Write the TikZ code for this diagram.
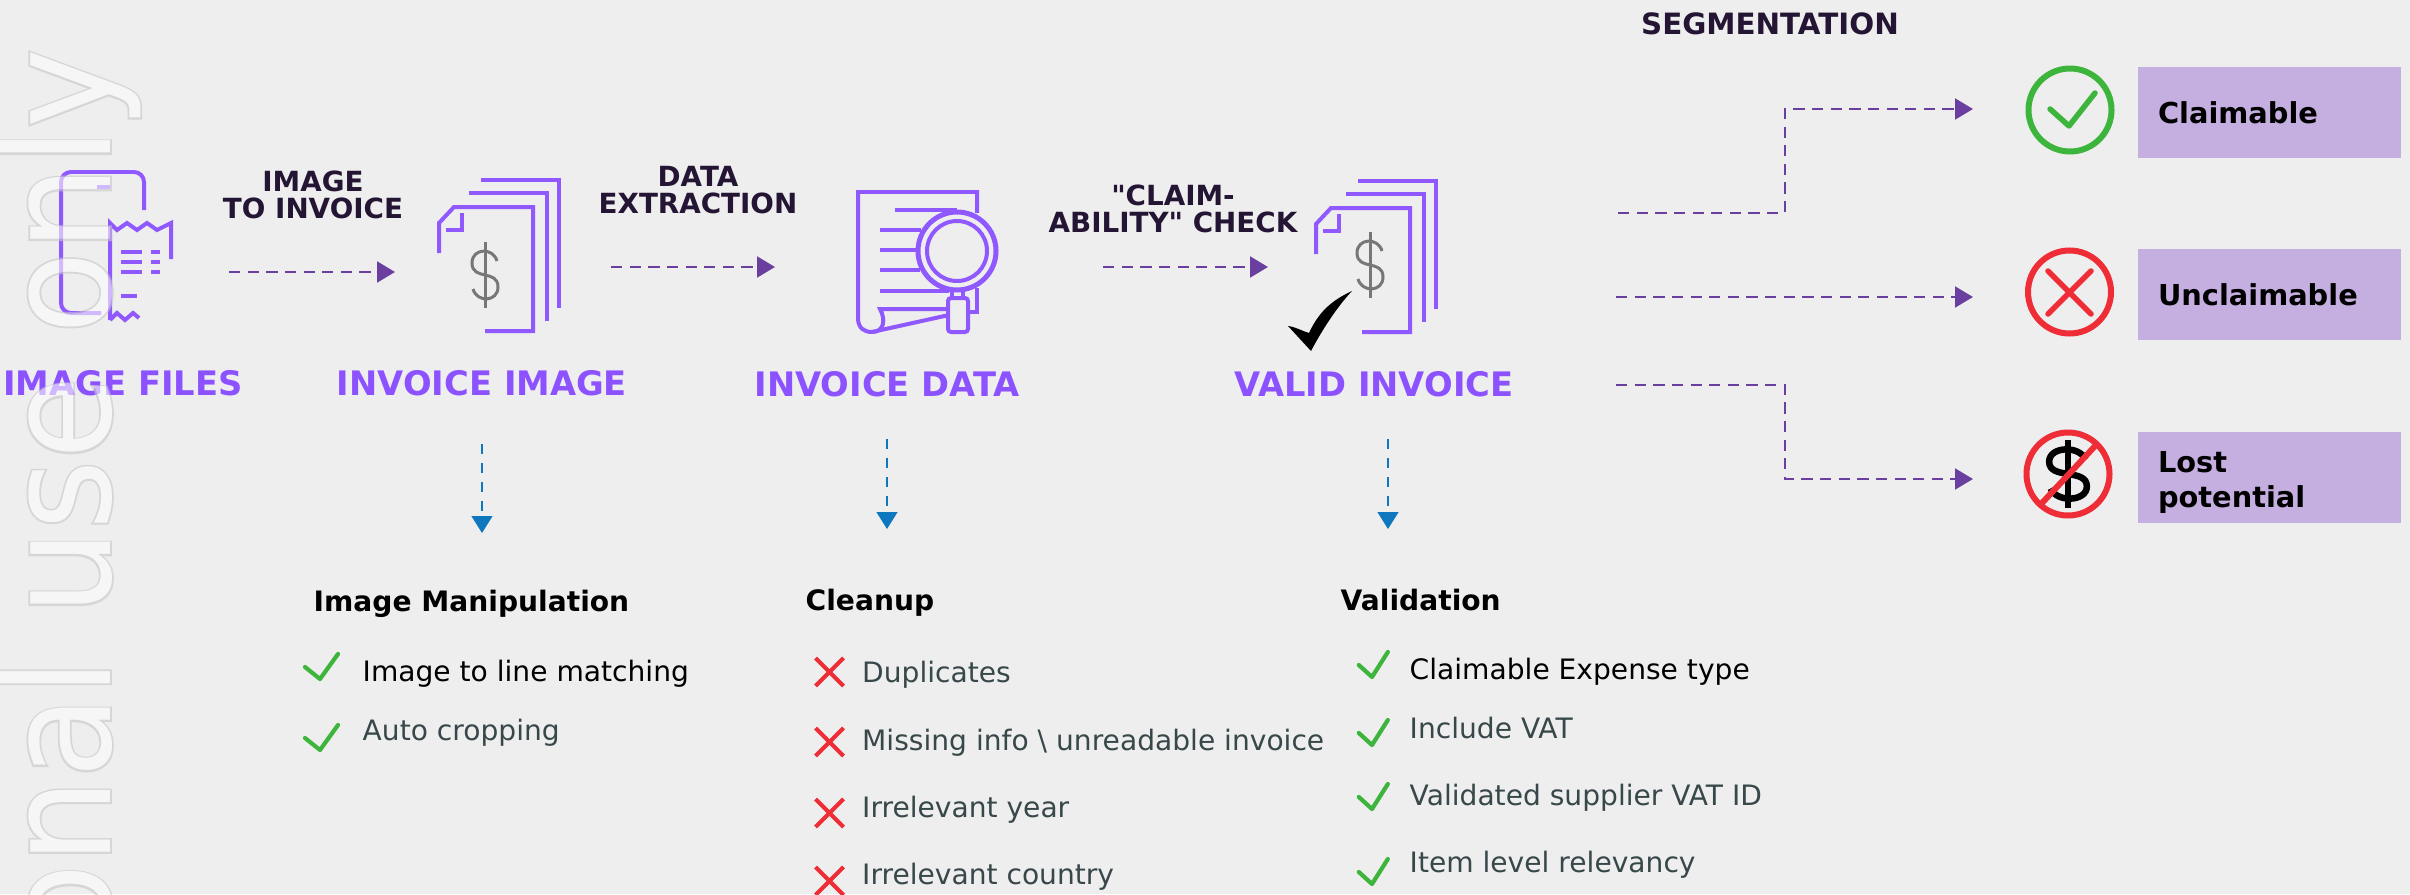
\documentclass[tikz,border=0pt]{standalone}
\usepackage{fontspec}
\setmainfont{DejaVu Sans}
\newfontfamily\labelfont{DejaVu Sans}
\newfontfamily\markedge[FakeBold=2.4,FakeStretch=0.925]{DejaVu Sans}
\newfontfamily\markbody[FakeStretch=0.925]{DejaVu Sans}
\usetikzlibrary{arrows.meta}
\definecolor{pagegrey}{HTML}{EEEEEE}
\definecolor{iconpurple}{HTML}{9059FF}
\definecolor{stagepurple}{HTML}{8C52FF}
\definecolor{flowpurple}{HTML}{6B3FA0}
\definecolor{inkdark}{HTML}{231533}
\definecolor{downblue}{HTML}{0F77BD}
\definecolor{boxlilac}{HTML}{C5AEE0}
\definecolor{okgreen}{HTML}{3DB53D}
\definecolor{badred}{HTML}{EE2D36}
\definecolor{listgrey}{HTML}{37474A}
\definecolor{dollargrey}{HTML}{777777}
\tikzset{
	stagelabel/.style={font=\fontsize{9.6}{11}\selectfont\bfseries, text=stagepurple, anchor=mid, inner sep=0pt},
	steplabel/.style={font=\labelfont\fontsize{7.9}{7.5}\selectfont\bfseries, text=inkdark, align=center, inner sep=0pt},
	listhead/.style={font=\fontsize{8}{10}\selectfont\bfseries, text=black, anchor=mid west, inner sep=0pt},
	listitem/.style={font=\fontsize{8}{10}\selectfont, text=listgrey, anchor=mid west, inner sep=0pt},
	segbox/.style={fill=boxlilac, minimum width=2.63cm, minimum height=0.91cm, inner xsep=0.2cm, inner ysep=0pt, text width=2.23cm, align=left, font=\fontsize{8.2}{10}\selectfont\bfseries, text=black},
	segring/.style={circle, draw=#1, line width=0.06cm, minimum size=0.83cm, inner sep=0pt},
	icon/.style={draw=iconpurple, line width=0.04cm},
	flow/.style={draw=flowpurple, line width=0.02cm, dash pattern=on 3.2pt off 2.1pt, -{Triangle[length=0.18cm,width=0.21cm,fill=flowpurple]}},
	down/.style={draw=downblue, line width=0.014cm, dash pattern=on 2.9pt off 2.5pt, -{Triangle[length=0.17cm,width=0.21cm,fill=downblue]}},
	dollarsign/.pic={
		\draw (0.12,0.14) .. controls (0.08,0.28) and (-0.13,0.27) .. (-0.13,0.12) .. controls (-0.13,-0.06) and (0.13,0.06) .. (0.13,-0.12) .. controls (0.13,-0.27) and (-0.08,-0.28) .. (-0.12,-0.14);
		\draw (0,0.33) -- (0,-0.33);
	},
	docstack/.pic={
		\draw[icon] (0,0.75) -- (0.78,0.75) -- (0.78,-0.53);
		\draw[icon] (-0.12,0.62) -- (0.66,0.62) -- (0.66,-0.66);
		\draw[icon] (-0.42,0.02) -- (-0.42,0.32) -- (-0.27,0.48) -- (0.52,0.48) -- (0.52,-0.76) -- (0.04,-0.76);
		\draw[icon] (-0.19,0.42) -- (-0.19,0.25) -- (-0.35,0.25);
	},
	tickmark/.pic={
		\draw[okgreen, line width=0.042cm, line cap=round, line join=round] (-0.15,0.12) -- (0,0) -- (0.18,0.25);
	},
	crossmark/.pic={
		\draw[badred, line width=0.042cm] (-0.14,-0.14) -- (0.14,0.14);
		\draw[badred, line width=0.042cm] (-0.14,0.14) -- (0.14,-0.14);
	}
}
\begin{document}
\begin{tikzpicture}
	\fill[pagegrey] (0,0) rectangle (24.10,8.94);
	\useasboundingbox (0,0) rectangle (24.10,8.94);

	% image files icon
	\draw[icon, rounded corners=0.1cm] (1.44,6.84) -- (1.44,7.22) -- (0.61,7.22) -- (0.61,5.81) -- (1.01,5.81);
	\draw[icon] (0.97,7.07) -- (1.10,7.07);
	\draw[icon] (1.10,5.74) -- (1.10,6.71) -- (1.17,6.64) -- (1.27,6.71) -- (1.37,6.64) -- (1.47,6.71) -- (1.57,6.64) -- (1.71,6.71) -- (1.71,6.35);
	\draw[icon] (1.10,5.74) -- (1.17,5.81) -- (1.25,5.74) -- (1.33,5.81) -- (1.39,5.76);
	\draw[icon] (1.21,6.42) -- (1.42,6.42);
	\draw[icon] (1.21,6.32) -- (1.42,6.32);
	\draw[icon] (1.21,6.22) -- (1.42,6.22);
	\draw[icon] (1.51,6.42) -- (1.60,6.42);
	\draw[icon] (1.51,6.32) -- (1.60,6.32);
	\draw[icon] (1.51,6.22) -- (1.60,6.22);
	\draw[icon] (1.21,5.98) -- (1.37,5.98);

	\pic (stackimage) at (4.81,6.39) {docstack};
	\pic[color=dollargrey, line width=0.03cm] (dollarimage) at (4.85,6.19) {dollarsign};
	\pic (stackvalid) at (13.58,6.38) {docstack};
	\pic[color=dollargrey, line width=0.03cm] (dollarvalid) at (13.70,6.29) {dollarsign};

	% invoice data icon
	\draw[icon] (9.77,6.81) -- (9.77,7.02) -- (8.58,7.02) -- (8.58,5.76) .. controls (8.58,5.66) and (8.64,5.62) .. (8.72,5.62) -- (9.49,5.79);
	\draw[icon] (9.77,6.06) -- (9.77,5.82) -- (9.67,5.82);
	\draw[icon] (8.72,5.62) .. controls (8.84,5.62) and (8.86,5.74) .. (8.80,5.85) -- (9.49,5.85);
	\draw[icon] (8.95,6.84) -- (9.57,6.84);
	\draw[icon] (8.80,6.64) -- (9.21,6.64);
	\draw[icon] (8.80,6.44) -- (9.17,6.44);
	\draw[icon] (8.80,6.24) -- (9.20,6.24);
	\draw[icon] (8.80,6.03) -- (9.49,6.03);
	\draw[icon, line width=0.05cm, fill=pagegrey] (9.57,6.43) circle (0.39);
	\draw[icon] (9.57,6.43) circle (0.30);
	\draw[icon] (9.515,6.03) -- (9.515,5.97);
	\draw[icon] (9.63,6.03) -- (9.63,5.97);
	\draw[icon, rounded corners=0.03cm] (9.48,5.96) rectangle (9.68,5.62);

	% black tick on the valid invoice
	\fill[black] (12.88,5.68) .. controls (12.96,5.67) and (13.02,5.63) .. (13.09,5.61) .. controls (13.20,5.85) and (13.35,5.95) .. (13.52,6.03) .. controls (13.35,5.85) and (13.20,5.60) .. (13.11,5.43) -- cycle;

	\node[stagelabel] (imagefiles) at (1.23,5.08) {IMAGE FILES};
	\node[stagelabel] (invoiceimage) at (4.82,5.08) {INVOICE IMAGE};
	\node[stagelabel] (invoicedata) at (8.87,5.07) {INVOICE DATA};
	\node[stagelabel] (validinvoice) at (13.74,5.07) {VALID INVOICE};

	\node[steplabel] (imagestep) at (3.13,6.99) {IMAGE\\TO INVOICE};
	\node[steplabel] (datastep) at (6.98,7.04) {DATA\\EXTRACTION};
	\node[steplabel] (claimstep) at (11.73,6.85) {"CLAIM-\\ABILITY" CHECK};
	\node[steplabel, font=\labelfont\fontsize{8.35}{10}\selectfont\bfseries] (segstep) at (17.70,8.70) {SEGMENTATION};

	% flow arrows
	\coordinate (flowafrom) at (2.29,6.22);
	\coordinate (flowato) at (3.95,6.22);
	\coordinate (flowbfrom) at (6.11,6.27);
	\coordinate (flowbto) at (7.75,6.27);
	\coordinate (flowcfrom) at (11.03,6.27);
	\coordinate (flowcto) at (12.68,6.27);
	\draw[flow] (flowafrom) -- (flowato);
	\draw[flow] (flowbfrom) -- (flowbto);
	\draw[flow] (flowcfrom) -- (flowcto);

	\coordinate (segafrom) at (16.18,6.81);
	\coordinate (segabend) at (17.85,7.85);
	\coordinate (segato) at (19.73,7.85);
	\coordinate (segbfrom) at (16.16,5.97);
	\coordinate (segbto) at (19.73,5.97);
	\coordinate (segcfrom) at (16.16,5.09);
	\coordinate (segcbend) at (17.85,4.15);
	\coordinate (segcto) at (19.73,4.15);
	\draw[flow] (segafrom) -| (segabend) -- (segato);
	\draw[flow] (segbfrom) -- (segbto);
	\draw[flow] (segcfrom) -| (segcbend) -- (segcto);

	\coordinate (downafrom) at (4.82,4.50);
	\coordinate (downato) at (4.82,3.61);
	\coordinate (downbfrom) at (8.87,4.55);
	\coordinate (downbto) at (8.87,3.65);
	\coordinate (downcfrom) at (13.88,4.55);
	\coordinate (downcto) at (13.88,3.65);
	\draw[down] (downafrom) -- (downato);
	\draw[down] (downbfrom) -- (downbto);
	\draw[down] (downcfrom) -- (downcto);

	% image manipulation list
	\node[listhead] (imagehead) at (3.13,2.92) {Image Manipulation};
	\pic (ticka) at (3.20,2.15) {tickmark};
	\pic (tickb) at (3.20,1.44) {tickmark};
	\node[listitem, text=black] (imageline) at (3.62,2.225) {Image to line matching};
	\node[listitem] (imagecrop) at (3.62,1.635) {Auto cropping};

	% cleanup list
	\node[listhead] (cleanhead) at (8.05,2.935) {Cleanup};
	\pic (crossa) at (8.295,2.22) {crossmark};
	\pic (crossb) at (8.295,1.52) {crossmark};
	\pic (crossc) at (8.295,0.81) {crossmark};
	\pic (crossd) at (8.295,0.13) {crossmark};
	\node[listitem] (cleandup) at (8.615,2.215) {Duplicates};
	\node[listitem] (cleanmiss) at (8.615,1.535) {Missing info \textbackslash{} unreadable invoice};
	\node[listitem] (cleanyear) at (8.615,0.865) {Irrelevant year};
	\node[listitem] (cleancountry) at (8.615,0.19) {Irrelevant country};

	% validation list
	\node[listhead] (validhead) at (13.40,2.935) {Validation};
	\pic[xscale=0.88] (tickc) at (13.72,2.17) {tickmark};
	\pic[xscale=0.88] (tickd) at (13.72,1.49) {tickmark};
	\pic[xscale=0.88] (ticke) at (13.72,0.85) {tickmark};
	\pic[xscale=0.88] (tickf) at (13.72,0.10) {tickmark};
	\node[listitem, text=black] (validtype) at (14.09,2.245) {Claimable Expense type};
	\node[listitem] (validvat) at (14.09,1.655) {Include VAT};
	\node[listitem] (validid) at (14.09,0.985) {Validated supplier VAT ID};
	\node[listitem] (validitem) at (14.09,0.315) {Item level relevancy};

	% segments
	\node[segring=okgreen] (ringclaim) at (20.70,7.84) {};
	\draw[okgreen, line width=0.055cm, line cap=round, line join=round] (20.50,7.85) -- (20.69,7.68) -- (20.95,8.01);
	\node[segbox] (boxclaim) at (22.695,7.815) {Claimable};

	\node[segring=badred] (ringnot) at (20.695,6.02) {};
	\draw[badred, line width=0.055cm, line cap=round] (20.48,6.23) -- (20.91,5.80);
	\draw[badred, line width=0.055cm, line cap=round] (20.48,5.80) -- (20.91,6.23);
	\node[segbox] (boxnot) at (22.695,5.995) {Unclaimable};

	\node[segring=badred] (ringlost) at (20.68,4.20) {};
	\pic[color=black, line width=0.065cm, xscale=1.45, yscale=1.03] (dollarlost) at (20.68,4.20) {dollarsign};
	\draw[badred, line width=0.06cm] (20.42,3.91) -- (20.96,4.49);
	\node[segbox] (boxlost) at (22.695,4.17) {\rule{0pt}{9.1pt}Lost\\potential};

	% watermark
	\begin{scope}[transparency group, opacity=0.6]
		\node[font=\markedge\fontsize{41.5}{50}\selectfont, text=black!22, rotate=90, anchor=base east, inner sep=0pt] (markedge) at (1.10,8.46) {onal use only};
		\node[font=\markbody\fontsize{41.5}{50}\selectfont, text=white!85!pagegrey, rotate=90, anchor=base east, inner sep=0pt] (markfill) at (1.10,8.46) {onal use only};
	\end{scope}
\end{tikzpicture}
\end{document}
